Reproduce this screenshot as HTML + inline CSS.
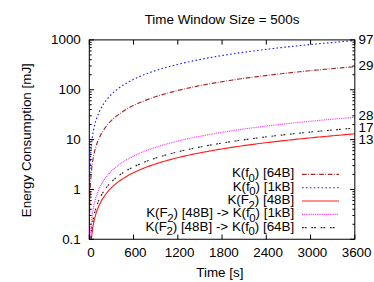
<!DOCTYPE html>
<html><head><meta charset="utf-8"><style>
html,body{margin:0;padding:0;background:#fff;}
svg{display:block}
text{font-family:"Liberation Sans",sans-serif;font-size:13.4px;fill:#000}
</style></head><body>
<svg width="374" height="282" viewBox="0 0 374 282">
<rect width="374" height="282" fill="#fff"/>
<text x="222" y="24" text-anchor="middle">Time Window Size = 500s</text>
<g clip-path="url(#c)">
<path d="M89.30,239.25 L89.31,239.25 L89.31,239.25 L89.32,239.25 L89.32,239.25 L89.32,239.25 L89.33,239.25 L89.34,239.25 L89.35,239.25 L89.36,239.25 L89.37,239.25 L89.39,238.88 L89.42,234.05 L89.45,229.22 L89.48,224.39 L89.53,219.56 L89.58,214.73 L89.66,209.90 L89.74,205.07 L89.86,200.24 L89.99,195.41 L90.17,190.58 L90.38,185.75 L90.66,180.92 L90.99,176.09 L91.42,171.26 L91.95,166.43 L92.61,161.60 L93.44,156.77 L94.47,151.94 L95.76,147.11 L97.38,142.28 L99.40,137.45 L101.92,132.62 L105.08,127.80 L109.02,122.97 L109.30,122.66 L111.30,120.60 L113.30,118.72 L115.30,116.98 L117.30,115.38 L119.30,113.89 L121.30,112.49 L123.30,111.18 L125.30,109.94 L127.30,108.77 L129.30,107.66 L131.30,106.60 L133.30,105.60 L135.30,104.63 L137.30,103.71 L139.30,102.83 L141.30,101.98 L143.30,101.16 L145.30,100.38 L147.30,99.62 L149.30,98.88 L151.30,98.17 L153.30,97.49 L155.30,96.82 L157.30,96.17 L159.30,95.55 L161.30,94.94 L163.30,94.34 L165.30,93.77 L167.30,93.20 L169.30,92.66 L171.30,92.12 L173.30,91.60 L175.30,91.09 L177.30,90.59 L179.30,90.11 L181.30,89.63 L183.30,89.17 L185.30,88.71 L187.30,88.26 L189.30,87.83 L191.30,87.40 L193.30,86.98 L195.30,86.57 L197.30,86.16 L199.30,85.76 L201.30,85.37 L203.30,84.99 L205.30,84.61 L207.30,84.24 L209.30,83.88 L211.30,83.52 L213.30,83.17 L215.30,82.82 L217.30,82.48 L219.30,82.15 L221.30,81.82 L223.30,81.49 L225.30,81.17 L227.30,80.86 L229.30,80.54 L231.30,80.24 L233.30,79.93 L235.30,79.64 L237.30,79.34 L239.30,79.05 L241.30,78.76 L243.30,78.48 L245.30,78.20 L247.30,77.93 L249.30,77.65 L251.30,77.39 L253.30,77.12 L255.30,76.86 L257.30,76.60 L259.30,76.34 L261.30,76.09 L263.30,75.84 L265.30,75.59 L267.30,75.35 L269.30,75.10 L271.30,74.87 L273.30,74.63 L275.30,74.40 L277.30,74.16 L279.30,73.93 L281.30,73.71 L283.30,73.48 L285.30,73.26 L287.30,73.04 L289.30,72.82 L291.30,72.61 L293.30,72.40 L295.30,72.18 L297.30,71.98 L299.30,71.77 L301.30,71.56 L303.30,71.36 L305.30,71.16 L307.30,70.96 L309.30,70.76 L311.30,70.57 L313.30,70.37 L315.30,70.18 L317.30,69.99 L319.30,69.80 L321.30,69.61 L323.30,69.43 L325.30,69.24 L327.30,69.06 L329.30,68.88 L331.30,68.70 L333.30,68.52 L335.30,68.34 L337.30,68.17 L339.30,67.99 L341.30,67.82 L343.30,67.65 L345.30,67.48 L347.30,67.31 L349.30,67.15 L351.30,66.98 L353.30,66.82 L354.80,66.69" fill="none" stroke="#a52a2a" stroke-width="1.15" stroke-dasharray="4.7,1.4,0.8,1.7"/>
<path d="M89.30,239.25 L89.31,239.25 L89.31,239.25 L89.32,239.25 L89.32,239.25 L89.32,239.25 L89.33,236.89 L89.34,232.07 L89.35,227.24 L89.36,222.41 L89.37,217.58 L89.39,212.75 L89.42,207.92 L89.45,203.09 L89.48,198.26 L89.53,193.43 L89.58,188.60 L89.66,183.77 L89.74,178.94 L89.86,174.11 L89.99,169.28 L90.17,164.45 L90.38,159.62 L90.66,154.79 L90.99,149.96 L91.42,145.13 L91.95,140.30 L92.61,135.47 L93.44,130.64 L94.47,125.81 L95.76,120.98 L97.38,116.15 L99.40,111.32 L101.92,106.49 L105.08,101.66 L109.02,96.83 L109.30,96.53 L111.30,94.47 L113.30,92.58 L115.30,90.85 L117.30,89.25 L119.30,87.75 L121.30,86.36 L123.30,85.04 L125.30,83.81 L127.30,82.64 L129.30,81.53 L131.30,80.47 L133.30,79.46 L135.30,78.50 L137.30,77.58 L139.30,76.70 L141.30,75.85 L143.30,75.03 L145.30,74.24 L147.30,73.48 L149.30,72.75 L151.30,72.04 L153.30,71.35 L155.30,70.69 L157.30,70.04 L159.30,69.41 L161.30,68.80 L163.30,68.21 L165.30,67.63 L167.30,67.07 L169.30,66.52 L171.30,65.99 L173.30,65.47 L175.30,64.96 L177.30,64.46 L179.30,63.97 L181.30,63.50 L183.30,63.03 L185.30,62.58 L187.30,62.13 L189.30,61.69 L191.30,61.26 L193.30,60.84 L195.30,60.43 L197.30,60.03 L199.30,59.63 L201.30,59.24 L203.30,58.86 L205.30,58.48 L207.30,58.11 L209.30,57.75 L211.30,57.39 L213.30,57.04 L215.30,56.69 L217.30,56.35 L219.30,56.01 L221.30,55.68 L223.30,55.36 L225.30,55.04 L227.30,54.72 L229.30,54.41 L231.30,54.10 L233.30,53.80 L235.30,53.50 L237.30,53.21 L239.30,52.92 L241.30,52.63 L243.30,52.35 L245.30,52.07 L247.30,51.79 L249.30,51.52 L251.30,51.25 L253.30,50.99 L255.30,50.72 L257.30,50.46 L259.30,50.21 L261.30,49.96 L263.30,49.71 L265.30,49.46 L267.30,49.21 L269.30,48.97 L271.30,48.73 L273.30,48.50 L275.30,48.26 L277.30,48.03 L279.30,47.80 L281.30,47.57 L283.30,47.35 L285.30,47.13 L287.30,46.91 L289.30,46.69 L291.30,46.48 L293.30,46.26 L295.30,46.05 L297.30,45.84 L299.30,45.63 L301.30,45.43 L303.30,45.23 L305.30,45.03 L307.30,44.83 L309.30,44.63 L311.30,44.43 L313.30,44.24 L315.30,44.05 L317.30,43.86 L319.30,43.67 L321.30,43.48 L323.30,43.29 L325.30,43.11 L327.30,42.93 L329.30,42.74 L331.30,42.57 L333.30,42.39 L335.30,42.21 L337.30,42.04 L339.30,41.86 L341.30,41.69 L343.30,41.52 L345.30,41.35 L347.30,41.18 L349.30,41.01 L351.30,40.85 L353.30,40.68 L354.80,40.56" fill="none" stroke="#2020ff" stroke-width="1.15" stroke-dasharray="1.6,2.3"/>
<path d="M89.30,239.25 L89.31,239.25 L89.31,239.25 L89.32,239.25 L89.32,239.25 L89.32,239.25 L89.33,239.25 L89.34,239.25 L89.35,239.25 L89.36,239.25 L89.37,239.25 L89.39,239.25 L89.42,239.25 L89.45,239.25 L89.48,239.25 L89.53,239.25 L89.58,239.25 L89.66,239.25 L89.74,239.25 L89.86,239.25 L89.99,239.25 L90.17,239.25 L90.38,239.25 L90.66,239.25 L90.99,239.25 L91.42,238.47 L91.95,233.64 L92.61,228.81 L93.44,223.98 L94.47,219.15 L95.76,214.32 L97.38,209.49 L99.40,204.66 L101.92,199.83 L105.08,195.00 L109.02,190.17 L109.30,189.87 L111.30,187.80 L113.30,185.92 L115.30,184.19 L117.30,182.58 L119.30,181.09 L121.30,179.69 L123.30,178.38 L125.30,177.14 L127.30,175.97 L129.30,174.86 L131.30,173.81 L133.30,172.80 L135.30,171.84 L137.30,170.92 L139.30,170.03 L141.30,169.18 L143.30,168.37 L145.30,167.58 L147.30,166.82 L149.30,166.09 L151.30,165.38 L153.30,164.69 L155.30,164.02 L157.30,163.38 L159.30,162.75 L161.30,162.14 L163.30,161.55 L165.30,160.97 L167.30,160.41 L169.30,159.86 L171.30,159.33 L173.30,158.80 L175.30,158.30 L177.30,157.80 L179.30,157.31 L181.30,156.84 L183.30,156.37 L185.30,155.91 L187.30,155.47 L189.30,155.03 L191.30,154.60 L193.30,154.18 L195.30,153.77 L197.30,153.36 L199.30,152.97 L201.30,152.58 L203.30,152.19 L205.30,151.82 L207.30,151.45 L209.30,151.08 L211.30,150.73 L213.30,150.37 L215.30,150.03 L217.30,149.69 L219.30,149.35 L221.30,149.02 L223.30,148.70 L225.30,148.38 L227.30,148.06 L229.30,147.75 L231.30,147.44 L233.30,147.14 L235.30,146.84 L237.30,146.55 L239.30,146.25 L241.30,145.97 L243.30,145.69 L245.30,145.41 L247.30,145.13 L249.30,144.86 L251.30,144.59 L253.30,144.32 L255.30,144.06 L257.30,143.80 L259.30,143.55 L261.30,143.29 L263.30,143.04 L265.30,142.79 L267.30,142.55 L269.30,142.31 L271.30,142.07 L273.30,141.83 L275.30,141.60 L277.30,141.37 L279.30,141.14 L281.30,140.91 L283.30,140.69 L285.30,140.47 L287.30,140.25 L289.30,140.03 L291.30,139.81 L293.30,139.60 L295.30,139.39 L297.30,139.18 L299.30,138.97 L301.30,138.77 L303.30,138.56 L305.30,138.36 L307.30,138.16 L309.30,137.97 L311.30,137.77 L313.30,137.58 L315.30,137.38 L317.30,137.19 L319.30,137.00 L321.30,136.82 L323.30,136.63 L325.30,136.45 L327.30,136.26 L329.30,136.08 L331.30,135.90 L333.30,135.72 L335.30,135.55 L337.30,135.37 L339.30,135.20 L341.30,135.03 L343.30,134.85 L345.30,134.69 L347.30,134.52 L349.30,134.35 L351.30,134.18 L353.30,134.02 L354.80,133.90" fill="none" stroke="#ff2020" stroke-width="1.15" />
<path d="M89.30,239.25 L89.31,239.25 L89.31,239.25 L89.32,239.25 L89.32,239.25 L89.32,239.25 L89.33,239.25 L89.34,239.25 L89.35,239.25 L89.36,239.25 L89.37,239.25 L89.39,239.25 L89.42,239.25 L89.45,239.25 L89.48,239.25 L89.53,239.25 L89.58,239.25 L89.66,239.25 L89.74,239.25 L89.86,239.25 L89.99,239.25 L90.17,239.25 L90.38,236.35 L90.66,231.52 L90.99,226.69 L91.42,221.86 L91.95,217.03 L92.61,212.20 L93.44,207.37 L94.47,202.54 L95.76,197.71 L97.38,192.88 L99.40,188.05 L101.92,183.22 L105.08,178.39 L109.02,173.56 L109.30,173.26 L111.30,171.20 L113.30,169.31 L115.30,167.58 L117.30,165.98 L119.30,164.48 L121.30,163.09 L123.30,161.77 L125.30,160.54 L127.30,159.37 L129.30,158.26 L131.30,157.20 L133.30,156.19 L135.30,155.23 L137.30,154.31 L139.30,153.43 L141.30,152.58 L143.30,151.76 L145.30,150.97 L147.30,150.21 L149.30,149.48 L151.30,148.77 L153.30,148.08 L155.30,147.42 L157.30,146.77 L159.30,146.14 L161.30,145.53 L163.30,144.94 L165.30,144.36 L167.30,143.80 L169.30,143.25 L171.30,142.72 L173.30,142.20 L175.30,141.69 L177.30,141.19 L179.30,140.70 L181.30,140.23 L183.30,139.76 L185.30,139.31 L187.30,138.86 L189.30,138.42 L191.30,138.00 L193.30,137.58 L195.30,137.16 L197.30,136.76 L199.30,136.36 L201.30,135.97 L203.30,135.59 L205.30,135.21 L207.30,134.84 L209.30,134.48 L211.30,134.12 L213.30,133.77 L215.30,133.42 L217.30,133.08 L219.30,132.75 L221.30,132.41 L223.30,132.09 L225.30,131.77 L227.30,131.45 L229.30,131.14 L231.30,130.83 L233.30,130.53 L235.30,130.23 L237.30,129.94 L239.30,129.65 L241.30,129.36 L243.30,129.08 L245.30,128.80 L247.30,128.52 L249.30,128.25 L251.30,127.98 L253.30,127.72 L255.30,127.45 L257.30,127.20 L259.30,126.94 L261.30,126.69 L263.30,126.44 L265.30,126.19 L267.30,125.94 L269.30,125.70 L271.30,125.46 L273.30,125.23 L275.30,124.99 L277.30,124.76 L279.30,124.53 L281.30,124.31 L283.30,124.08 L285.30,123.86 L287.30,123.64 L289.30,123.42 L291.30,123.21 L293.30,122.99 L295.30,122.78 L297.30,122.57 L299.30,122.37 L301.30,122.16 L303.30,121.96 L305.30,121.76 L307.30,121.56 L309.30,121.36 L311.30,121.16 L313.30,120.97 L315.30,120.78 L317.30,120.59 L319.30,120.40 L321.30,120.21 L323.30,120.02 L325.30,119.84 L327.30,119.66 L329.30,119.48 L331.30,119.30 L333.30,119.12 L335.30,118.94 L337.30,118.77 L339.30,118.59 L341.30,118.42 L343.30,118.25 L345.30,118.08 L347.30,117.91 L349.30,117.74 L351.30,117.58 L353.30,117.41 L354.80,117.29" fill="none" stroke="#ff20ff" stroke-width="1.15" stroke-dasharray="0.9,0.95"/>
<path d="M89.30,239.25 L89.31,239.25 L89.31,239.25 L89.32,239.25 L89.32,239.25 L89.32,239.25 L89.33,239.25 L89.34,239.25 L89.35,239.25 L89.36,239.25 L89.37,239.25 L89.39,239.25 L89.42,239.25 L89.45,239.25 L89.48,239.25 L89.53,239.25 L89.58,239.25 L89.66,239.25 L89.74,239.25 L89.86,239.25 L89.99,239.25 L90.17,239.25 L90.38,239.25 L90.66,239.25 L90.99,237.49 L91.42,232.66 L91.95,227.83 L92.61,223.00 L93.44,218.17 L94.47,213.34 L95.76,208.51 L97.38,203.68 L99.40,198.85 L101.92,194.02 L105.08,189.19 L109.02,184.36 L109.30,184.06 L111.30,182.00 L113.30,180.11 L115.30,178.38 L117.30,176.78 L119.30,175.28 L121.30,173.89 L123.30,172.57 L125.30,171.34 L127.30,170.17 L129.30,169.06 L131.30,168.00 L133.30,166.99 L135.30,166.03 L137.30,165.11 L139.30,164.23 L141.30,163.38 L143.30,162.56 L145.30,161.77 L147.30,161.01 L149.30,160.28 L151.30,159.57 L153.30,158.88 L155.30,158.22 L157.30,157.57 L159.30,156.94 L161.30,156.33 L163.30,155.74 L165.30,155.16 L167.30,154.60 L169.30,154.05 L171.30,153.52 L173.30,153.00 L175.30,152.49 L177.30,151.99 L179.30,151.50 L181.30,151.03 L183.30,150.56 L185.30,150.11 L187.30,149.66 L189.30,149.22 L191.30,148.80 L193.30,148.38 L195.30,147.96 L197.30,147.56 L199.30,147.16 L201.30,146.77 L203.30,146.39 L205.30,146.01 L207.30,145.64 L209.30,145.28 L211.30,144.92 L213.30,144.57 L215.30,144.22 L217.30,143.88 L219.30,143.55 L221.30,143.22 L223.30,142.89 L225.30,142.57 L227.30,142.25 L229.30,141.94 L231.30,141.63 L233.30,141.33 L235.30,141.03 L237.30,140.74 L239.30,140.45 L241.30,140.16 L243.30,139.88 L245.30,139.60 L247.30,139.32 L249.30,139.05 L251.30,138.78 L253.30,138.52 L255.30,138.25 L257.30,138.00 L259.30,137.74 L261.30,137.49 L263.30,137.24 L265.30,136.99 L267.30,136.74 L269.30,136.50 L271.30,136.26 L273.30,136.03 L275.30,135.79 L277.30,135.56 L279.30,135.33 L281.30,135.11 L283.30,134.88 L285.30,134.66 L287.30,134.44 L289.30,134.22 L291.30,134.01 L293.30,133.79 L295.30,133.58 L297.30,133.37 L299.30,133.17 L301.30,132.96 L303.30,132.76 L305.30,132.56 L307.30,132.36 L309.30,132.16 L311.30,131.96 L313.30,131.77 L315.30,131.58 L317.30,131.39 L319.30,131.20 L321.30,131.01 L323.30,130.82 L325.30,130.64 L327.30,130.46 L329.30,130.28 L331.30,130.10 L333.30,129.92 L335.30,129.74 L337.30,129.57 L339.30,129.39 L341.30,129.22 L343.30,129.05 L345.30,128.88 L347.30,128.71 L349.30,128.54 L351.30,128.38 L353.30,128.21 L354.80,128.09" fill="none" stroke="#202020" stroke-width="1.15" stroke-dasharray="1.8,1.0,1.8,4.7"/>
</g>
<clipPath id="c"><rect x="89.3" y="39.9" width="265.5" height="199.35"/></clipPath>
<rect x="89.3" y="39.9" width="265.5" height="199.35" fill="none" stroke="#000" stroke-width="1"/>
<path d="M89.30,239.25 v-4.7 M89.30,39.9 v4.7 M133.55,239.25 v-4.7 M133.55,39.9 v4.7 M177.80,239.25 v-4.7 M177.80,39.9 v4.7 M222.05,239.25 v-4.7 M222.05,39.9 v4.7 M266.30,239.25 v-4.7 M266.30,39.9 v4.7 M310.55,239.25 v-4.7 M310.55,39.9 v4.7 M354.80,239.25 v-4.7 M354.80,39.9 v4.7 M89.3,239.25 h4.7 M354.8,239.25 h-4.7 M89.3,224.25 h2.4 M354.8,224.25 h-2.4 M89.3,215.47 h2.4 M354.8,215.47 h-2.4 M89.3,209.24 h2.4 M354.8,209.24 h-2.4 M89.3,204.42 h2.4 M354.8,204.42 h-2.4 M89.3,200.47 h2.4 M354.8,200.47 h-2.4 M89.3,197.13 h2.4 M354.8,197.13 h-2.4 M89.3,194.24 h2.4 M354.8,194.24 h-2.4 M89.3,191.69 h2.4 M354.8,191.69 h-2.4 M89.3,189.41 h4.7 M354.8,189.41 h-4.7 M89.3,174.41 h2.4 M354.8,174.41 h-2.4 M89.3,165.63 h2.4 M354.8,165.63 h-2.4 M89.3,159.41 h2.4 M354.8,159.41 h-2.4 M89.3,154.58 h2.4 M354.8,154.58 h-2.4 M89.3,150.63 h2.4 M354.8,150.63 h-2.4 M89.3,147.29 h2.4 M354.8,147.29 h-2.4 M89.3,144.40 h2.4 M354.8,144.40 h-2.4 M89.3,141.86 h2.4 M354.8,141.86 h-2.4 M89.3,139.57 h4.7 M354.8,139.57 h-4.7 M89.3,124.57 h2.4 M354.8,124.57 h-2.4 M89.3,115.80 h2.4 M354.8,115.80 h-2.4 M89.3,109.57 h2.4 M354.8,109.57 h-2.4 M89.3,104.74 h2.4 M354.8,104.74 h-2.4 M89.3,100.79 h2.4 M354.8,100.79 h-2.4 M89.3,97.46 h2.4 M354.8,97.46 h-2.4 M89.3,94.57 h2.4 M354.8,94.57 h-2.4 M89.3,92.02 h2.4 M354.8,92.02 h-2.4 M89.3,89.74 h4.7 M354.8,89.74 h-4.7 M89.3,74.73 h2.4 M354.8,74.73 h-2.4 M89.3,65.96 h2.4 M354.8,65.96 h-2.4 M89.3,59.73 h2.4 M354.8,59.73 h-2.4 M89.3,54.90 h2.4 M354.8,54.90 h-2.4 M89.3,50.96 h2.4 M354.8,50.96 h-2.4 M89.3,47.62 h2.4 M354.8,47.62 h-2.4 M89.3,44.73 h2.4 M354.8,44.73 h-2.4 M89.3,42.18 h2.4 M354.8,42.18 h-2.4 M89.3,39.90 h4.7 M354.8,39.90 h-4.7" stroke="#000" stroke-width="1" fill="none"/>
<g text-anchor="end">
<text x="80.8" y="44.3">1000</text>
<text x="80.8" y="94.1">100</text>
<text x="80.8" y="144.2">10</text>
<text x="80.8" y="194.0">1</text>
<text x="80.8" y="243.8">0.1</text>
</g>
<g text-anchor="middle">
<text x="91.1" y="257">0</text>
<text x="135.4" y="257">600</text>
<text x="179.6" y="257">1200</text>
<text x="223.9" y="257">1800</text>
<text x="268.1" y="257">2400</text>
<text x="312.4" y="257">3000</text>
<text x="356.6" y="257">3600</text>
<text x="219.8" y="276.6">Time [s]</text>
</g>
<text transform="translate(30.5,140.2) rotate(-90)" text-anchor="middle">Energy Consumption [mJ]</text>
<text x="358.6" y="44.1">970</text>
<text x="358.6" y="70">290</text>
<text x="358.6" y="120">28</text>
<text x="358.6" y="132">17</text>
<text x="358.6" y="144">13</text>
<g text-anchor="end">
<text x="294.2" font-size="13.25" y="177.40">K(f<tspan dx="-0.6" dy="4.4" font-size="11.4">0</tspan><tspan dy="-4.4">) [64B]</tspan></text>
<text x="294.2" font-size="13.25" y="190.75">K(f<tspan dx="-0.6" dy="4.4" font-size="11.4">0</tspan><tspan dy="-4.4">) [1kB]</tspan></text>
<text x="294.2" font-size="13.25" y="204.10">K(F<tspan dx="-0.6" dy="4.4" font-size="11.4">2</tspan><tspan dy="-4.4">) [48B]</tspan></text>
<text x="294.2" font-size="13.25" y="217.45">K(F<tspan dx="-0.6" dy="4.4" font-size="11.4">2</tspan><tspan dy="-4.4">) [48B] -&gt; K(f</tspan><tspan dx="-0.6" dy="4.4" font-size="11.4">0</tspan><tspan dy="-4.4">) [1kB]</tspan></text>
<text x="294.2" font-size="13.25" y="230.80">K(F<tspan dx="-0.6" dy="4.4" font-size="11.4">2</tspan><tspan dy="-4.4">) [48B] -&gt; K(f</tspan><tspan dx="-0.6" dy="4.4" font-size="11.4">0</tspan><tspan dy="-4.4">) [64B]</tspan></text>
</g>
<path d="M302,174.40 H339" stroke="#a52a2a" stroke-width="1.15" stroke-dasharray="4.7,1.4,0.8,1.7"/>
<path d="M302,187.70 H339" stroke="#2020ff" stroke-width="1.15" stroke-dasharray="1.6,2.3"/>
<path d="M302,201.00 H339" stroke="#ff2020" stroke-width="1.15" />
<path d="M302,214.30 H339" stroke="#ff20ff" stroke-width="1.15" stroke-dasharray="0.9,0.95"/>
<path d="M302,227.60 H339" stroke="#202020" stroke-width="1.15" stroke-dasharray="1.8,1.0,1.8,4.7"/>
</svg></body></html>
